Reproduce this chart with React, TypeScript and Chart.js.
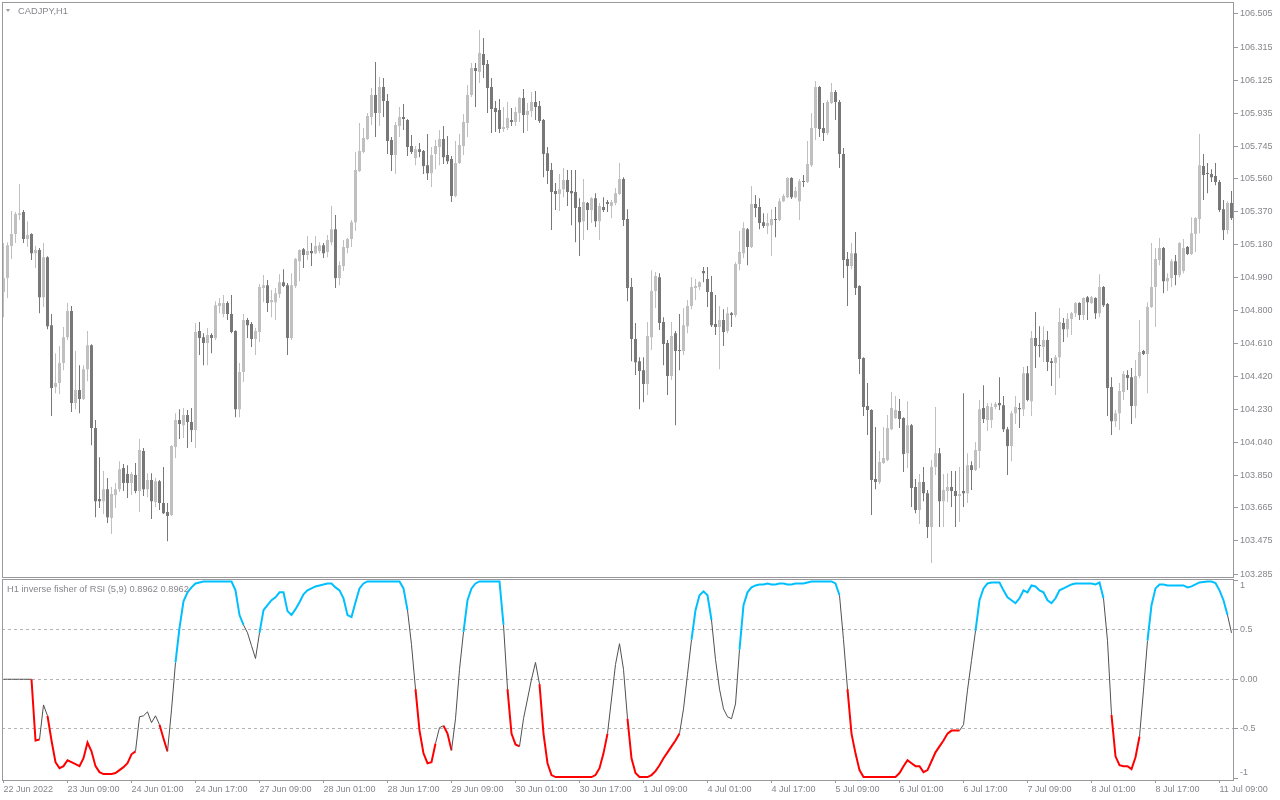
import React, { useEffect, useRef } from "react";
import { Chart, registerables } from "chart.js";
Chart.register(...registerables);

const OPEN = [104.906,104.987,105.171,105.240,105.349,105.366,105.211,105.240,105.130,105.148,104.877,105.107,104.716,104.360,104.383,104.498,104.647,104.797,104.268,104.343,104.291,104.463,104.601,104.124,103.716,103.704,103.773,103.607,103.739,103.773,103.894,103.860,103.808,103.854,103.762,103.992,103.773,103.825,103.699,103.819,103.693,103.641,103.624,104.015,104.170,104.141,104.199,104.159,104.113,104.682,104.647,104.613,104.659,104.642,104.826,104.780,104.843,104.780,104.682,104.233,104.446,104.745,104.722,104.636,104.676,104.929,104.946,104.848,104.848,104.895,104.963,104.946,104.642,104.941,105.084,105.153,105.119,105.142,105.130,105.142,105.176,105.136,105.193,105.268,104.987,105.056,105.159,105.211,105.308,105.602,105.711,105.786,105.912,106.039,105.935,106.085,106.004,105.780,105.694,105.861,105.912,105.895,105.746,105.677,105.728,105.717,105.636,105.590,105.700,105.740,105.786,105.694,105.671,105.458,105.648,105.746,105.878,106.039,106.194,106.171,106.275,106.217,106.085,105.964,105.953,105.843,105.849,105.895,105.884,105.935,106.022,105.924,105.947,105.999,105.976,105.895,105.705,105.608,105.487,105.470,105.498,105.550,105.487,105.481,105.395,105.314,105.418,105.378,105.446,105.314,105.395,105.424,105.401,105.418,105.470,105.556,105.326,104.935,104.636,104.509,104.457,104.377,104.647,104.912,104.992,104.734,104.613,104.423,104.670,104.573,104.567,104.710,104.826,104.929,104.935,105.027,104.981,104.906,104.722,104.705,104.745,104.682,104.785,104.774,105.067,105.130,105.268,105.165,105.412,105.395,105.308,105.286,105.291,105.326,105.320,105.429,105.452,105.562,105.452,105.429,105.544,105.539,105.636,105.849,106.085,105.849,105.820,105.993,106.056,105.999,105.700,105.096,105.056,105.130,104.941,104.527,104.251,104.228,103.831,103.814,103.923,103.940,104.118,104.182,104.222,104.182,103.980,104.141,103.785,103.653,103.814,103.750,103.555,103.900,103.980,103.704,103.762,103.785,103.762,103.733,103.762,103.750,103.911,103.883,103.992,104.239,104.170,104.170,104.245,104.268,104.256,104.118,104.021,104.210,104.239,104.233,104.440,104.279,104.642,104.601,104.590,104.630,104.509,104.498,104.532,104.728,104.693,104.751,104.785,104.843,104.774,104.877,104.843,104.872,104.785,104.935,104.837,104.360,104.164,104.210,104.331,104.429,104.417,104.251,104.423,104.567,104.550,104.820,104.935,105.090,105.159,104.969,104.987,105.084,105.004,105.027,105.165,105.125,105.240,105.326,105.631,105.590,105.585,105.573,105.539,105.383,105.263,105.418];
const HIGH = [105.188,105.193,105.372,105.366,105.527,105.378,105.314,105.245,105.171,105.159,105.188,105.112,104.780,104.555,104.596,104.705,104.843,104.826,104.567,104.486,104.486,104.682,104.606,104.170,103.957,103.877,103.837,103.785,103.808,103.934,103.917,103.911,103.871,103.923,104.061,104.009,103.865,103.865,103.837,103.825,103.900,103.693,104.026,104.210,104.233,104.239,104.228,104.239,104.728,104.734,104.670,104.699,104.670,104.854,104.872,104.889,104.854,104.889,104.687,104.498,104.780,104.757,104.734,104.699,104.952,105.004,104.975,104.918,104.929,105.009,105.038,104.958,105.015,105.102,105.153,105.159,105.228,105.188,105.228,105.193,105.188,105.234,105.401,105.349,105.084,105.205,105.217,105.320,105.711,105.878,105.849,105.935,106.079,106.229,106.142,106.137,106.045,105.797,105.884,105.970,105.987,105.901,105.809,105.746,105.763,105.723,105.815,105.740,105.780,105.838,105.861,105.803,105.688,105.774,105.815,105.930,106.096,106.223,106.223,106.413,106.367,106.240,106.137,106.004,106.016,105.970,105.999,105.964,105.970,106.027,106.073,105.993,106.056,106.062,106.004,105.901,105.740,105.648,105.533,105.585,105.619,105.608,105.608,105.608,105.446,105.556,105.424,105.452,105.475,105.418,105.452,105.435,105.435,105.504,105.648,105.567,105.383,104.987,104.728,104.532,104.532,104.734,105.032,105.021,105.015,104.762,104.630,104.734,104.682,104.780,104.814,104.860,104.992,104.981,104.969,105.050,105.050,104.998,104.889,104.826,104.808,104.820,104.791,105.078,105.257,105.308,105.274,105.516,105.464,105.446,105.360,105.360,105.383,105.395,105.446,105.470,105.567,105.567,105.510,105.556,105.579,105.774,105.935,106.119,106.091,105.993,106.010,106.108,106.068,106.010,105.734,105.136,105.188,105.251,104.946,104.532,104.383,104.233,104.130,103.992,104.130,104.199,104.331,104.308,104.291,104.187,104.279,104.147,103.831,103.860,103.900,103.768,103.940,104.245,104.009,103.860,103.865,103.877,103.877,103.900,104.325,103.980,103.934,104.044,104.285,104.371,104.268,104.268,104.274,104.417,104.308,104.130,104.222,104.308,104.268,104.475,104.481,104.682,104.791,104.710,104.710,104.682,104.527,104.544,104.814,104.757,104.785,104.791,104.848,104.848,104.877,104.883,104.883,104.877,105.009,104.941,104.843,104.417,104.228,104.383,104.452,104.457,104.469,104.515,104.745,104.573,104.848,105.188,105.159,105.217,105.165,105.015,105.096,105.119,105.193,105.211,105.171,105.337,105.337,105.815,105.700,105.648,105.613,105.648,105.550,105.435,105.429,105.487];
const LOW = [104.762,104.872,105.096,105.188,105.320,105.188,105.165,105.090,105.044,104.785,104.820,104.693,104.193,104.325,104.320,104.457,104.630,104.216,104.233,104.210,104.285,104.394,104.026,103.612,103.664,103.630,103.578,103.515,103.664,103.756,103.762,103.722,103.739,103.750,103.641,103.733,103.727,103.601,103.670,103.653,103.630,103.474,103.618,103.952,104.061,104.067,104.009,104.044,104.009,104.544,104.486,104.486,104.555,104.630,104.785,104.762,104.745,104.670,104.187,104.187,104.389,104.642,104.590,104.544,104.619,104.848,104.791,104.762,104.745,104.872,104.935,104.544,104.630,104.929,104.969,105.044,105.090,105.056,105.125,105.130,105.102,105.107,105.176,104.929,104.946,105.027,105.130,105.165,105.257,105.596,105.705,105.780,105.866,105.797,105.861,105.912,105.700,105.602,105.585,105.797,105.838,105.688,105.700,105.636,105.682,105.585,105.550,105.510,105.613,105.636,105.642,105.642,105.424,105.452,105.642,105.694,105.797,106.027,105.970,106.108,106.137,105.935,105.820,105.826,105.820,105.826,105.838,105.861,105.861,105.884,105.820,105.832,105.912,105.895,105.878,105.567,105.527,105.263,105.378,105.372,105.452,105.401,105.291,105.193,105.113,105.205,105.263,105.303,105.280,105.205,105.366,105.366,105.332,105.406,105.464,105.286,104.854,104.509,104.429,104.233,104.273,104.314,104.573,104.814,104.688,104.486,104.314,104.400,104.141,104.457,104.544,104.670,104.808,104.860,104.918,104.963,104.820,104.705,104.659,104.463,104.596,104.670,104.705,104.762,105.032,105.102,105.061,105.159,105.337,105.268,105.274,105.240,105.113,105.222,105.314,105.424,105.446,105.441,105.446,105.320,105.510,105.533,105.625,105.780,105.797,105.774,105.809,105.987,105.895,105.619,104.987,104.826,105.038,104.889,104.435,104.193,104.084,103.624,103.773,103.802,103.917,103.934,104.113,104.176,104.124,103.871,103.894,103.670,103.635,103.572,103.704,103.492,103.348,103.854,103.555,103.555,103.699,103.670,103.555,103.584,103.670,103.693,103.768,103.877,103.894,104.153,104.107,104.124,104.233,104.228,104.101,103.854,103.934,104.147,104.124,104.193,104.279,104.193,104.469,104.532,104.504,104.452,104.366,104.314,104.412,104.619,104.647,104.659,104.762,104.745,104.745,104.745,104.837,104.751,104.762,104.820,104.193,104.084,104.130,104.113,104.285,104.343,104.147,104.182,104.412,104.544,104.325,104.814,104.705,105.061,104.900,104.912,104.935,104.946,104.992,105.015,105.119,105.119,105.136,105.245,105.435,105.475,105.539,105.521,105.366,105.205,105.240,105.320];
const CLOSE = [104.987,105.176,105.240,105.355,105.360,105.211,105.234,105.130,105.148,104.877,105.107,104.710,104.354,104.383,104.498,104.647,104.797,104.268,104.343,104.291,104.463,104.601,104.124,103.704,103.704,103.773,103.612,103.745,103.773,103.888,103.808,103.808,103.860,103.762,103.998,103.773,103.825,103.704,103.819,103.693,103.635,103.618,104.021,104.170,104.147,104.199,104.159,104.113,104.676,104.642,104.613,104.659,104.642,104.831,104.843,104.843,104.780,104.676,104.233,104.446,104.745,104.716,104.636,104.682,104.935,104.946,104.843,104.860,104.900,104.963,104.941,104.642,104.946,105.096,105.148,105.119,105.142,105.130,105.171,105.176,105.130,105.205,105.268,104.987,105.061,105.165,105.211,105.308,105.608,105.717,105.792,105.918,106.039,105.935,106.085,106.004,105.774,105.694,105.866,105.912,105.901,105.740,105.711,105.728,105.711,105.631,105.590,105.694,105.746,105.786,105.682,105.659,105.458,105.648,105.751,105.884,106.039,106.194,106.177,106.280,106.211,106.079,105.958,105.941,105.843,105.855,105.907,105.884,105.941,106.022,105.924,105.947,105.999,105.970,105.889,105.700,105.602,105.481,105.470,105.498,105.550,105.481,105.475,105.389,105.308,105.424,105.378,105.446,105.314,105.401,105.378,105.412,105.424,105.475,105.556,105.320,104.929,104.636,104.503,104.452,104.377,104.653,104.912,104.998,104.728,104.607,104.423,104.653,104.567,104.567,104.716,104.826,104.935,104.941,104.963,105.015,104.906,104.716,104.705,104.745,104.676,104.785,104.774,105.067,105.136,105.274,105.165,105.412,105.389,105.303,105.286,105.303,105.326,105.320,105.429,105.458,105.562,105.452,105.487,105.544,105.539,105.642,105.849,106.085,105.843,105.820,105.999,106.056,105.999,105.700,105.090,105.056,105.130,104.929,104.521,104.245,104.228,103.825,103.814,103.929,103.952,104.124,104.239,104.228,104.176,103.975,104.141,103.779,103.653,103.814,103.750,103.555,103.900,103.980,103.704,103.768,103.785,103.762,103.733,103.745,103.750,103.911,103.883,103.998,104.233,104.176,104.251,104.245,104.262,104.256,104.118,104.021,104.210,104.245,104.233,104.440,104.285,104.642,104.596,104.596,104.630,104.504,104.498,104.532,104.734,104.693,104.751,104.785,104.843,104.774,104.872,104.848,104.877,104.785,104.935,104.831,104.354,104.164,104.210,104.337,104.435,104.412,104.251,104.423,104.561,104.550,104.820,104.935,105.096,105.159,104.969,104.987,105.084,105.004,105.188,105.159,105.125,105.245,105.332,105.636,105.579,105.585,105.567,105.539,105.378,105.263,105.418,105.332];

const IFRSI = [0,0,0,0,0,0,0,0,-0.62,-0.61,-0.26,-0.37,-0.62,-0.84,-0.90,-0.88,-0.82,-0.84,-0.86,-0.88,-0.80,-0.64,-0.73,-0.88,-0.94,-0.96,-0.96,-0.96,-0.95,-0.92,-0.89,-0.85,-0.76,-0.73,-0.38,-0.37,-0.33,-0.44,-0.37,-0.46,-0.60,-0.73,-0.31,0.17,0.52,0.79,0.88,0.93,0.97,0.98,0.99,0.99,0.99,0.99,0.99,0.99,0.99,0.99,0.90,0.65,0.55,0.47,0.34,0.21,0.47,0.70,0.75,0.80,0.83,0.88,0.88,0.69,0.65,0.71,0.78,0.86,0.90,0.92,0.94,0.95,0.96,0.97,0.97,0.93,0.90,0.82,0.65,0.63,0.78,0.92,0.97,0.99,0.99,0.99,0.99,0.99,0.99,0.99,0.99,0.99,0.92,0.70,0.35,-0.10,-0.52,-0.75,-0.85,-0.84,-0.65,-0.49,-0.47,-0.55,-0.72,-0.40,0.10,0.48,0.80,0.92,0.97,0.99,0.99,0.99,0.99,0.99,0.99,0.55,-0.10,-0.55,-0.66,-0.68,-0.40,-0.20,0.00,0.17,-0.05,-0.55,-0.85,-0.97,-0.99,-0.99,-0.99,-0.99,-0.99,-0.99,-0.99,-0.99,-0.99,-0.99,-0.97,-0.90,-0.75,-0.55,-0.20,0.15,0.36,0.10,-0.40,-0.80,-0.95,-0.99,-0.99,-0.99,-0.97,-0.93,-0.87,-0.80,-0.74,-0.68,-0.62,-0.55,-0.30,0.05,0.40,0.70,0.85,0.89,0.85,0.60,0.20,-0.10,-0.30,-0.38,-0.40,-0.25,0.30,0.75,0.88,0.93,0.95,0.96,0.96,0.97,0.96,0.96,0.97,0.97,0.96,0.96,0.97,0.97,0.97,0.98,0.99,0.99,0.99,0.99,0.99,0.99,0.97,0.85,0.40,-0.10,-0.55,-0.75,-0.92,-0.99,-0.99,-0.99,-0.99,-0.99,-0.99,-0.99,-0.99,-0.99,-0.95,-0.88,-0.82,-0.85,-0.88,-0.88,-0.94,-0.92,-0.83,-0.74,-0.68,-0.62,-0.55,-0.52,-0.52,-0.52,-0.46,-0.11,0.19,0.49,0.80,0.92,0.97,0.98,0.98,0.98,0.90,0.83,0.80,0.77,0.82,0.90,0.88,0.95,0.94,0.90,0.88,0.80,0.77,0.82,0.90,0.92,0.94,0.96,0.97,0.97,0.97,0.97,0.97,0.96,0.98,0.82,0.39,-0.36,-0.78,-0.87,-0.88,-0.88,-0.91,-0.79,-0.58,-0.11,0.39,0.75,0.92,0.96,0.96,0.95,0.95,0.95,0.95,0.95,0.93,0.94,0.96,0.98,0.985,0.99,0.99,0.975,0.90,0.80,0.65,0.47];

const PRICE_TICKS = [106.505,106.315,106.125,105.935,105.745,105.560,105.370,105.180,104.990,104.800,104.610,104.420,104.230,104.040,103.850,103.665,103.475,103.285];
const IND_TICKS = [1, 0.5, 0, -0.5, -1];
const TIME_TICK_INDEX = [0,16,32,48,64,80,96,112,128,144,160,176,192,208,224,240,256,272,288,304];
const TIME_TICK_LABELS = ["22 Jun 2022","23 Jun 09:00","24 Jun 01:00","24 Jun 17:00","27 Jun 09:00","28 Jun 01:00","28 Jun 17:00","29 Jun 09:00","30 Jun 01:00","30 Jun 17:00","1 Jul 09:00","4 Jul 01:00","4 Jul 17:00","5 Jul 09:00","6 Jul 01:00","6 Jul 17:00","7 Jul 09:00","8 Jul 01:00","8 Jul 17:00","11 Jul 09:00"];

const BULL = "#c0c0c0";
const BEAR = "#787878";
const FRAME = "#9a9a9e";
const TEXT = "#86868c";
const BLUE = "#00bfff";
const RED = "#ff0000";
const GRAY = "#505050";
const FONT = { family: "'Liberation Sans', Arial, sans-serif", size: 9 };
const X_MIN = -0.375;
const X_MAX = 307.625;

const framePlugin = {
  id: "frame",
  afterDraw(chart: any) {
    const { ctx, chartArea: a } = chart;
    ctx.save();
    ctx.strokeStyle = FRAME;
    ctx.lineWidth = 1;
    const l = Math.floor(a.left) + 0.5;
    const t = Math.floor(a.top) + 0.5;
    const r = Math.floor(a.right) - 0.5;
    const b = Math.floor(a.bottom) + 0.5;
    ctx.strokeRect(l, t, r - l, b - t);
    ctx.restore();
  },
};

export default function App() {
  const topRef = useRef<HTMLCanvasElement>(null);
  const botRef = useRef<HTMLCanvasElement>(null);

  useEffect(() => {
    const colors = CLOSE.map((c, i) => (c >= OPEN[i] ? BULL : BEAR));
    const wicks = OPEN.map((_, i) => ({ x: i, y: [LOW[i], HIGH[i]] }));
    const bodies = OPEN.map((o, i) => ({ x: i, y: [Math.min(o, CLOSE[i]), Math.max(o, CLOSE[i])] }));

    const top = new Chart(topRef.current as HTMLCanvasElement, {
      type: "bar",
      data: {
        datasets: [
          { data: wicks as any, backgroundColor: colors, barThickness: 1, grouped: false, inflateAmount: 0, borderWidth: 0, order: 2 } as any,
          { data: bodies as any, backgroundColor: colors, barThickness: 3, grouped: false, inflateAmount: 0, borderWidth: 0, minBarLength: 1, order: 1 } as any,
        ],
      },
      options: {
        animation: false,
        responsive: false,
        events: [],
        layout: { padding: { left: 2, top: 2.5, right: 0, bottom: 1 } },
        plugins: { legend: { display: false }, tooltip: { enabled: false } },
        scales: {
          x: { type: "linear", min: X_MIN, max: X_MAX, offset: false, display: false },
          y: {
            position: "right",
            min: 103.268,
            max: 106.571,
            afterBuildTicks: (s: any) => { s.ticks = PRICE_TICKS.map((v) => ({ value: v })); },
            afterFit: (s: any) => { s.width = 46; s.paddingTop = 0; s.paddingBottom = 0; },
            ticks: { font: FONT, color: TEXT, padding: 2, autoSkip: false, callback: (v: any) => Number(v).toFixed(3) },
            grid: { drawOnChartArea: false, drawTicks: true, tickLength: 4, tickColor: FRAME },
            border: { display: false },
          },
        },
      } as any,
      plugins: [framePlugin],
    });

    const bottom = new Chart(botRef.current as HTMLCanvasElement, {
      type: "line",
      data: {
        datasets: [
          {
            data: IFRSI.map((v, i) => ({ x: i, y: v })),
            pointRadius: 0,
            borderWidth: 1,
            borderColor: GRAY,
            tension: 0,
            segment: {
              borderColor: (c: any) => (c.p1.parsed.y > 0.5 ? BLUE : c.p1.parsed.y < -0.5 ? RED : GRAY),
              borderWidth: (c: any) => (c.p1.parsed.y > 0.5 || c.p1.parsed.y < -0.5 ? 2 : 1),
            },
          } as any,
        ],
      },
      options: {
        animation: false,
        responsive: false,
        events: [],
        layout: { padding: { left: 2, top: 1.5, right: 0, bottom: 0 } },
        plugins: { legend: { display: false }, tooltip: { enabled: false } },
        scales: {
          x: {
            type: "linear",
            min: X_MIN,
            max: X_MAX,
            offset: false,
            afterBuildTicks: (s: any) => { s.ticks = TIME_TICK_INDEX.map((v) => ({ value: v })); },
            afterFit: (s: any) => { s.height = 20; s.paddingLeft = 0; s.paddingRight = 0; },
            ticks: {
              font: FONT, color: TEXT, align: "start", maxRotation: 0, minRotation: 0, autoSkip: false, padding: 1,
              callback: (_v: any, i: number) => TIME_TICK_LABELS[i],
            },
            grid: { drawOnChartArea: false, drawTicks: true, tickLength: 3, tickColor: FRAME },
            border: { display: false },
          },
          y: {
            position: "right",
            min: -1.02,
            max: 1.01,
            afterBuildTicks: (s: any) => { s.ticks = IND_TICKS.map((v) => ({ value: v })); },
            afterFit: (s: any) => { s.width = 46; s.paddingTop = 0; s.paddingBottom = 0; },
            ticks: {
              font: FONT, color: TEXT, padding: 2, autoSkip: false,
              callback: (v: any) => (v === 1 ? ["", "1"] : v === -1 ? ["-1", ""] : v === 0 ? "0.00" : String(v)),
            },
            grid: {
              drawOnChartArea: true,
              drawTicks: true,
              tickLength: 4,
              tickColor: FRAME,
              color: (c: any) => (c.tick && Math.abs(c.tick.value) < 0.6 ? "#b4b4b4" : "rgba(0,0,0,0)"),
            },
            border: { display: false, dash: [3, 3] },
          },
        },
      } as any,
      plugins: [framePlugin],
    });

    return () => { top.destroy(); bottom.destroy(); };
  }, []);

  const textStyle: React.CSSProperties = {
    position: "absolute",
    fontFamily: "'Liberation Sans', Arial, sans-serif",
    fontSize: "9.3px",
    lineHeight: "12px",
    color: TEXT,
    whiteSpace: "nowrap",
  };

  return (
    <div style={{ position: "fixed", left: 0, top: 0, width: 1280, height: 800, background: "#fff", overflow: "hidden" }}>
      <canvas ref={topRef} width={1280} height={578} style={{ position: "absolute", left: 0, top: 0, width: 1280, height: 578, display: "block" }} />
      <canvas ref={botRef} width={1280} height={222} style={{ position: "absolute", left: 0, top: 578, width: 1280, height: 222, display: "block" }} />
      <div style={{ position: "absolute", left: 6, top: 9, width: 0, height: 0, borderLeft: "2.5px solid transparent", borderRight: "2.5px solid transparent", borderTop: "3px solid #9a9a9e" }} />
      <div style={{ ...textStyle, left: 18, top: 5 }}>CADJPY,H1</div>
      <div style={{ ...textStyle, left: 7, top: 583 }}>H1 inverse fisher of RSI (5,9) 0.8962 0.8962</div>
    </div>
  );
}
